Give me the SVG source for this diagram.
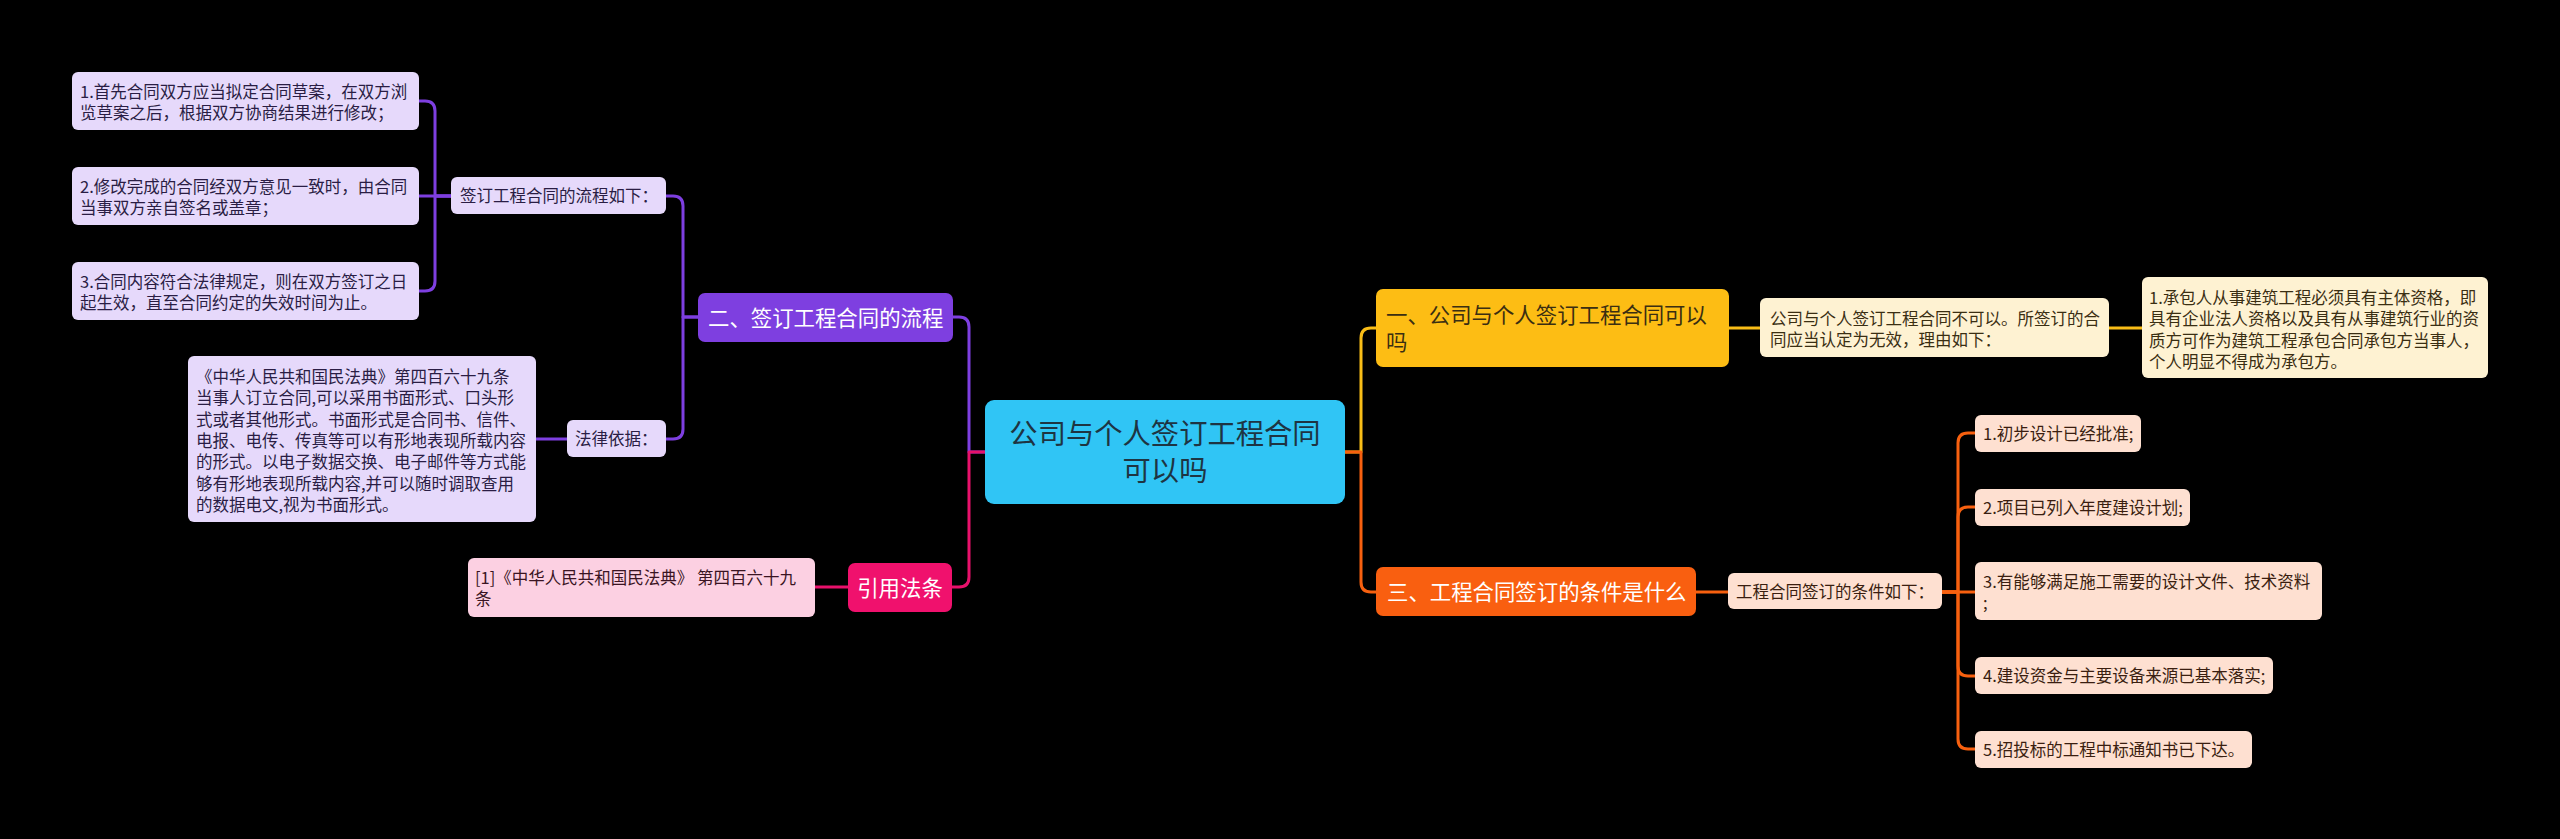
<svg xmlns="http://www.w3.org/2000/svg" width="2560" height="839" viewBox="0 0 2560 839">
<style>
text{font-family:"Noto Sans CJK SC","Noto Sans",sans-serif;}
.s{font-size:16.5px;}
.m{font-size:21.4px;}
.t{font-size:28.3px;fill:#1e3442;}
.c{fill:none;stroke-width:3;stroke-linecap:round;stroke-linejoin:round;}
.cp{stroke:#7e3fe0;}
.cm{stroke:#e8116b;}
.cy{stroke:#f9bd17;}
.co{stroke:#f7600f;}
.lp{fill:#e6d9fb;}
.lm{fill:#fcd0e2;}
.ly{fill:#fef2d2;}
.lo{fill:#fee0d1;}
.tp{fill:#2a1d44;}
.tm{fill:#3a1422;}
.ty{fill:#3a2e12;}
.to{fill:#3a1e10;}
.w{fill:#ffffff;}
</style>
<rect width="2560" height="839" fill="#000"/>
<g id="connectors">
  <path class="c cp" d="M985,452 H969 V327 Q969,317 959,317 H953"/>
  <path class="c cm" d="M985,452 H969 V577 Q969,587 959,587 H952"/>
  <path class="c cy" d="M1345,452 H1361 V338 Q1361,328 1371,328 H1376"/>
  <path class="c co" d="M1345,452 H1361 V582 Q1361,592 1371,592 H1376"/>
  <path class="c cp" d="M698,317 H683 V206 Q683,196 673,196 H666"/>
  <path class="c cp" d="M698,317 H683 V429 Q683,439 673,439 H666"/>
  <path class="c cp" d="M451,196 H435 V111 Q435,101 425,101 H419"/>
  <path class="c cp" d="M451,196 H419"/>
  <path class="c cp" d="M451,196 H435 V281 Q435,291 425,291 H419"/>
  <path class="c cp" d="M567,439 H536"/>
  <path class="c cm" d="M848,587 H815"/>
  <path class="c cy" d="M1729,328 H1760"/>
  <path class="c cy" d="M2109,328 H2142"/>
  <path class="c co" d="M1696,592 H1728"/>
  <path class="c co" d="M1942,592 H1958 V443 Q1958,433 1968,433 H1975"/>
  <path class="c co" d="M1942,592 H1958 V517 Q1958,507 1968,507 H1975"/>
  <path class="c co" d="M1942,592 H1975"/>
  <path class="c co" d="M1942,592 H1958 V666 Q1958,676 1968,676 H1975"/>
  <path class="c co" d="M1942,592 H1958 V739 Q1958,749 1968,749 H1975"/>
</g>
<g id="root">
  <rect x="985" y="400" width="360" height="104" rx="9" fill="#30c5f5"/>
  <text class="t" x="1165" y="444" text-anchor="middle">公司与个人签订工程合同</text>
  <text class="t" x="1165" y="481" text-anchor="middle">可以吗</text>
</g>
<g id="b2">
  <rect x="698" y="293" width="255" height="49" rx="7" fill="#7e3fe0"/>
  <text class="m w" x="708" y="326">二、签订工程合同的流程</text>
</g>
<g id="b2-flow">
  <rect x="451" y="177" width="215" height="37" rx="6" class="lp"/>
  <text class="s tp" x="460" y="202">签订工程合同的流程如下：</text>
</g>
<g id="b2-flow-1">
  <rect x="72" y="72" width="347" height="58" rx="6" class="lp"/>
  <text class="s tp" x="80" y="98">1.首先合同双方应当拟定合同草案，在双方浏</text>
  <text class="s tp" x="80" y="119">览草案之后，根据双方协商结果进行修改；</text>
</g>
<g id="b2-flow-2">
  <rect x="72" y="167" width="347" height="58" rx="6" class="lp"/>
  <text class="s tp" x="80" y="193">2.修改完成的合同经双方意见一致时，由合同</text>
  <text class="s tp" x="80" y="214">当事双方亲自签名或盖章；</text>
</g>
<g id="b2-flow-3">
  <rect x="72" y="262" width="347" height="58" rx="6" class="lp"/>
  <text class="s tp" x="80" y="288">3.合同内容符合法律规定，则在双方签订之日</text>
  <text class="s tp" x="80" y="309">起生效，直至合同约定的失效时间为止。</text>
</g>
<g id="b2-law">
  <rect x="567" y="420" width="99" height="37" rx="6" class="lp"/>
  <text class="s tp" x="575" y="445">法律依据：</text>
</g>
<g id="b2-law-text">
  <rect x="188" y="356" width="348" height="166" rx="6" class="lp"/>
  <text class="s tp" x="196" y="383">《中华人民共和国民法典》第四百六十九条</text>
  <text class="s tp" x="196" y="404.3">当事人订立合同,可以采用书面形式、口头形</text>
  <text class="s tp" x="196" y="425.6">式或者其他形式。书面形式是合同书、信件、</text>
  <text class="s tp" x="196" y="446.9">电报、电传、传真等可以有形地表现所载内容</text>
  <text class="s tp" x="196" y="468.2">的形式。以电子数据交换、电子邮件等方式能</text>
  <text class="s tp" x="196" y="489.5">够有形地表现所载内容,并可以随时调取查用</text>
  <text class="s tp" x="196" y="510.8">的数据电文,视为书面形式。</text>
</g>
<g id="ref">
  <rect x="848" y="563" width="104" height="49" rx="7" fill="#f0116d"/>
  <text class="m w" x="900" y="596" text-anchor="middle">引用法条</text>
</g>
<g id="ref-1">
  <rect x="468" y="558" width="347" height="59" rx="6" class="lm"/>
  <text class="s tm" x="475" y="584">[1]《中华人民共和国民法典》 第四百六十九</text>
  <text class="s tm" x="475" y="605">条</text>
</g>
<g id="b1">
  <rect x="1376" y="289" width="353" height="78" rx="7" fill="#fdbd14"/>
  <text class="m ty" x="1386" y="323">一、公司与个人签订工程合同可以</text>
  <text class="m ty" x="1386" y="350">吗</text>
</g>
<g id="b1-a">
  <rect x="1760" y="298" width="349" height="59" rx="6" class="ly"/>
  <text class="s ty" x="1770" y="324.5">公司与个人签订工程合同不可以。所签订的合</text>
  <text class="s ty" x="1770" y="345.5">同应当认定为无效，理由如下：</text>
</g>
<g id="b1-b">
  <rect x="2142" y="277" width="346" height="101" rx="6" class="ly"/>
  <text class="s ty" x="2149" y="304">1.承包人从事建筑工程必须具有主体资格，即</text>
  <text class="s ty" x="2149" y="325.3">具有企业法人资格以及具有从事建筑行业的资</text>
  <text class="s ty" x="2149" y="346.6">质方可作为建筑工程承包合同承包方当事人，</text>
  <text class="s ty" x="2149" y="367.9">个人明显不得成为承包方。</text>
</g>
<g id="b3">
  <rect x="1376" y="567" width="320" height="49" rx="7" fill="#f95f10"/>
  <text class="m w" x="1387" y="600">三、工程合同签订的条件是什么</text>
</g>
<g id="b3-a">
  <rect x="1728" y="573" width="214" height="36" rx="6" class="lo"/>
  <text class="s to" x="1736" y="597.5">工程合同签订的条件如下：</text>
</g>
<g id="b3-c1">
  <rect x="1975" y="415" width="166" height="37" rx="6" class="lo"/>
  <text class="s to" x="1983" y="439.5">1.初步设计已经批准;</text>
</g>
<g id="b3-c2">
  <rect x="1975" y="489" width="215" height="37" rx="6" class="lo"/>
  <text class="s to" x="1983" y="513.5">2.项目已列入年度建设计划;</text>
</g>
<g id="b3-c3">
  <rect x="1975" y="562" width="347" height="58" rx="6" class="lo"/>
  <text class="s to" x="1983" y="588">3.有能够满足施工需要的设计文件、技术资料</text>
  <text class="s to" x="1983" y="609">;</text>
</g>
<g id="b3-c4">
  <rect x="1975" y="657" width="298" height="37" rx="6" class="lo"/>
  <text class="s to" x="1983" y="681.5">4.建设资金与主要设备来源已基本落实;</text>
</g>
<g id="b3-c5">
  <rect x="1975" y="731" width="277" height="37" rx="6" class="lo"/>
  <text class="s to" x="1983" y="755.5">5.招投标的工程中标通知书已下达。</text>
</g>
</svg>
